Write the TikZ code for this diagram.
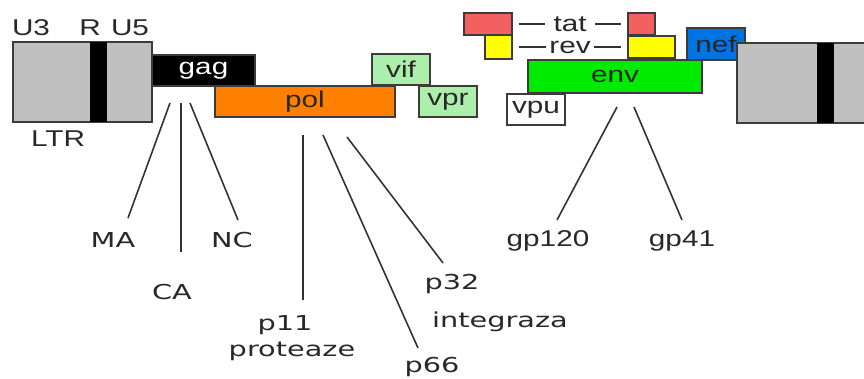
\documentclass[tikz,border=0pt]{standalone}
\usepackage{fontspec}
\setmainfont{Liberation Sans}[FakeStretch=1.3]
\newfontfamily\cutfont{DejaVu Sans}[FakeStretch=1.4]
\usepackage{tikz}
\usetikzlibrary{positioning, calc}
\definecolor{LtrColor}{RGB}{192,192,192}
\definecolor{BorderColor}{RGB}{60,60,60}
\definecolor{LineColor}{RGB}{50,50,50}
\definecolor{TextColor}{RGB}{40,40,40}
\definecolor{PolColor}{RGB}{255,128,0}
\definecolor{AccColor}{RGB}{172,238,172}
\definecolor{TatColor}{RGB}{242,96,96}
\definecolor{RevColor}{RGB}{255,255,0}
\definecolor{EnvColor}{RGB}{0,235,0}
\definecolor{NefColor}{RGB}{0,115,228}
\tikzstyle{gene} = [draw=BorderColor, line width=0.8pt, inner sep=0pt, text=TextColor, font=\fontsize{13}{15}\selectfont]
\tikzstyle{cut} = [line width=0.9pt, LineColor]
\tikzstyle{lbl} = [inner sep=1pt, text=TextColor, font=\fontsize{13}{15}\selectfont]
\tikzstyle{cutlbl} = [inner sep=0pt, text=TextColor, font=\cutfont\fontsize{11.7}{13}\selectfont]
\begin{document}
\begin{tikzpicture}[x=0.02cm, y=-0.02cm]
    \clip (0,0) rectangle (864,378);
    \fill[white] (0,0) rectangle (864,378);

    % LTR left
    \node[gene, fill=LtrColor, minimum width=2.78cm, minimum height=1.6cm] (ltrL) at (82.5,82) {};
    \node[fill=black, inner sep=0pt, minimum width=0.34cm, minimum height=1.6cm] (bandL) at (98.5,82) {};
    \draw[draw=BorderColor, line width=0.8pt] (ltrL.north west) rectangle (ltrL.south east);
    \node[lbl] (u3) at (31,28) {U3};
    \node[lbl] (r) at (90,28) {R};
    \node[lbl] (u5) at (130,28) {U5};
    \node[lbl] (ltr) at (58,139) {LTR};

    % gag, pol, vif, vpr
    \node[gene, fill=black, text=white, minimum width=2.06cm, minimum height=0.62cm] (gag) at (203.5,70.5) {gag};
    \node[gene, fill=PolColor, minimum width=3.6cm, minimum height=0.62cm] (pol) at (305,101.5) {pol};
    \node[gene, fill=AccColor, minimum width=1.16cm, minimum height=0.62cm] (vif) at (401,69.5) {vif};
    \node[gene, fill=AccColor, minimum width=1.16cm, minimum height=0.62cm] (vpr) at (448,101.5) {vpr};

    % tat, rev
    \node[gene, fill=TatColor, minimum width=0.96cm, minimum height=0.44cm] (tatL) at (488,24) {};
    \node[gene, fill=RevColor, minimum width=0.54cm, minimum height=0.48cm] (revL) at (498.5,47) {};
    \node[gene, fill=TatColor, minimum width=0.54cm, minimum height=0.44cm] (tatR) at (641.5,24) {};
    \node[gene, fill=RevColor, minimum width=0.94cm, minimum height=0.44cm] (revR) at (651.5,47) {};
    \draw[cut, shorten <=0.12cm, shorten >=0.12cm] (tatL.east) -- node[lbl, fill=white, inner xsep=5pt] (tat) {tat} (tatL.east -| tatR.west);
    \draw[cut, shorten <=0.12cm, shorten >=0.12cm] (revL.east) -- node[lbl, fill=white, inner xsep=2pt] (rev) {rev} (revL.east -| revR.west);

    % env, vpu, nef
    \node[gene, fill=EnvColor, minimum width=3.48cm, minimum height=0.66cm] (env) at (615,76.5) {env};
    \node[gene, fill=white, minimum width=1.16cm, minimum height=0.62cm] (vpu) at (536,109.5) {vpu};
    \node[gene, fill=NefColor, minimum width=1.16cm, minimum height=0.64cm] (nef) at (716,44) {nef};

    % LTR right
    \node[gene, fill=LtrColor, minimum width=3.3cm, minimum height=1.6cm] (ltrR) at (819.5,83) {};
    \node[fill=black, inner sep=0pt, minimum width=0.34cm, minimum height=1.6cm] (bandR) at (825.5,83) {};
    \draw[draw=BorderColor, line width=0.8pt] (ltrR.north west) rectangle (ltrR.south east);

    % gag cleavage
    \coordinate (ma0) at (170,103);  \coordinate (ma1) at (128,218);
    \coordinate (ca0) at (181,103);  \coordinate (ca1) at (181,252);
    \coordinate (nc0) at (190,103);  \coordinate (nc1) at (238,220);
    \draw[cut] (ma0) -- (ma1);
    \draw[cut] (ca0) -- (ca1);
    \draw[cut] (nc0) -- (nc1);
    \node[cutlbl] (ma) at (113,240) {MA};
    \node[cutlbl] (ca) at (172,292) {CA};
    \node[cutlbl] (nc) at (232,240) {NC};

    % pol cleavage
    \coordinate (p11a) at (303,135);  \coordinate (p11b) at (303,300);
    \coordinate (p66a) at (323,135);  \coordinate (p66b) at (418,348);
    \coordinate (p32a) at (347,137);  \coordinate (p32b) at (443,263);
    \draw[cut] (p11a) -- (p11b);
    \draw[cut] (p66a) -- (p66b);
    \draw[cut] (p32a) -- (p32b);
    \node[cutlbl] (p11) at (285,325) {p11};
    \node[cutlbl] (prot) at (292,351) {proteaze};
    \node[cutlbl] (p66) at (432,367) {p66};
    \node[cutlbl] (p32) at (452,284) {p32};
    \node[cutlbl] (integ) at (500,322) {integraza};

    % env cleavage
    \coordinate (g120a) at (617,107);  \coordinate (g120b) at (557,220);
    \coordinate (g41a) at (634,107);   \coordinate (g41b) at (682,220);
    \draw[cut] (g120a) -- (g120b);
    \draw[cut] (g41a) -- (g41b);
    \node[lbl] (gp120) at (548,241) {gp120};
    \node[lbl] (gp41) at (682,241) {gp41};
\end{tikzpicture}
\end{document}
